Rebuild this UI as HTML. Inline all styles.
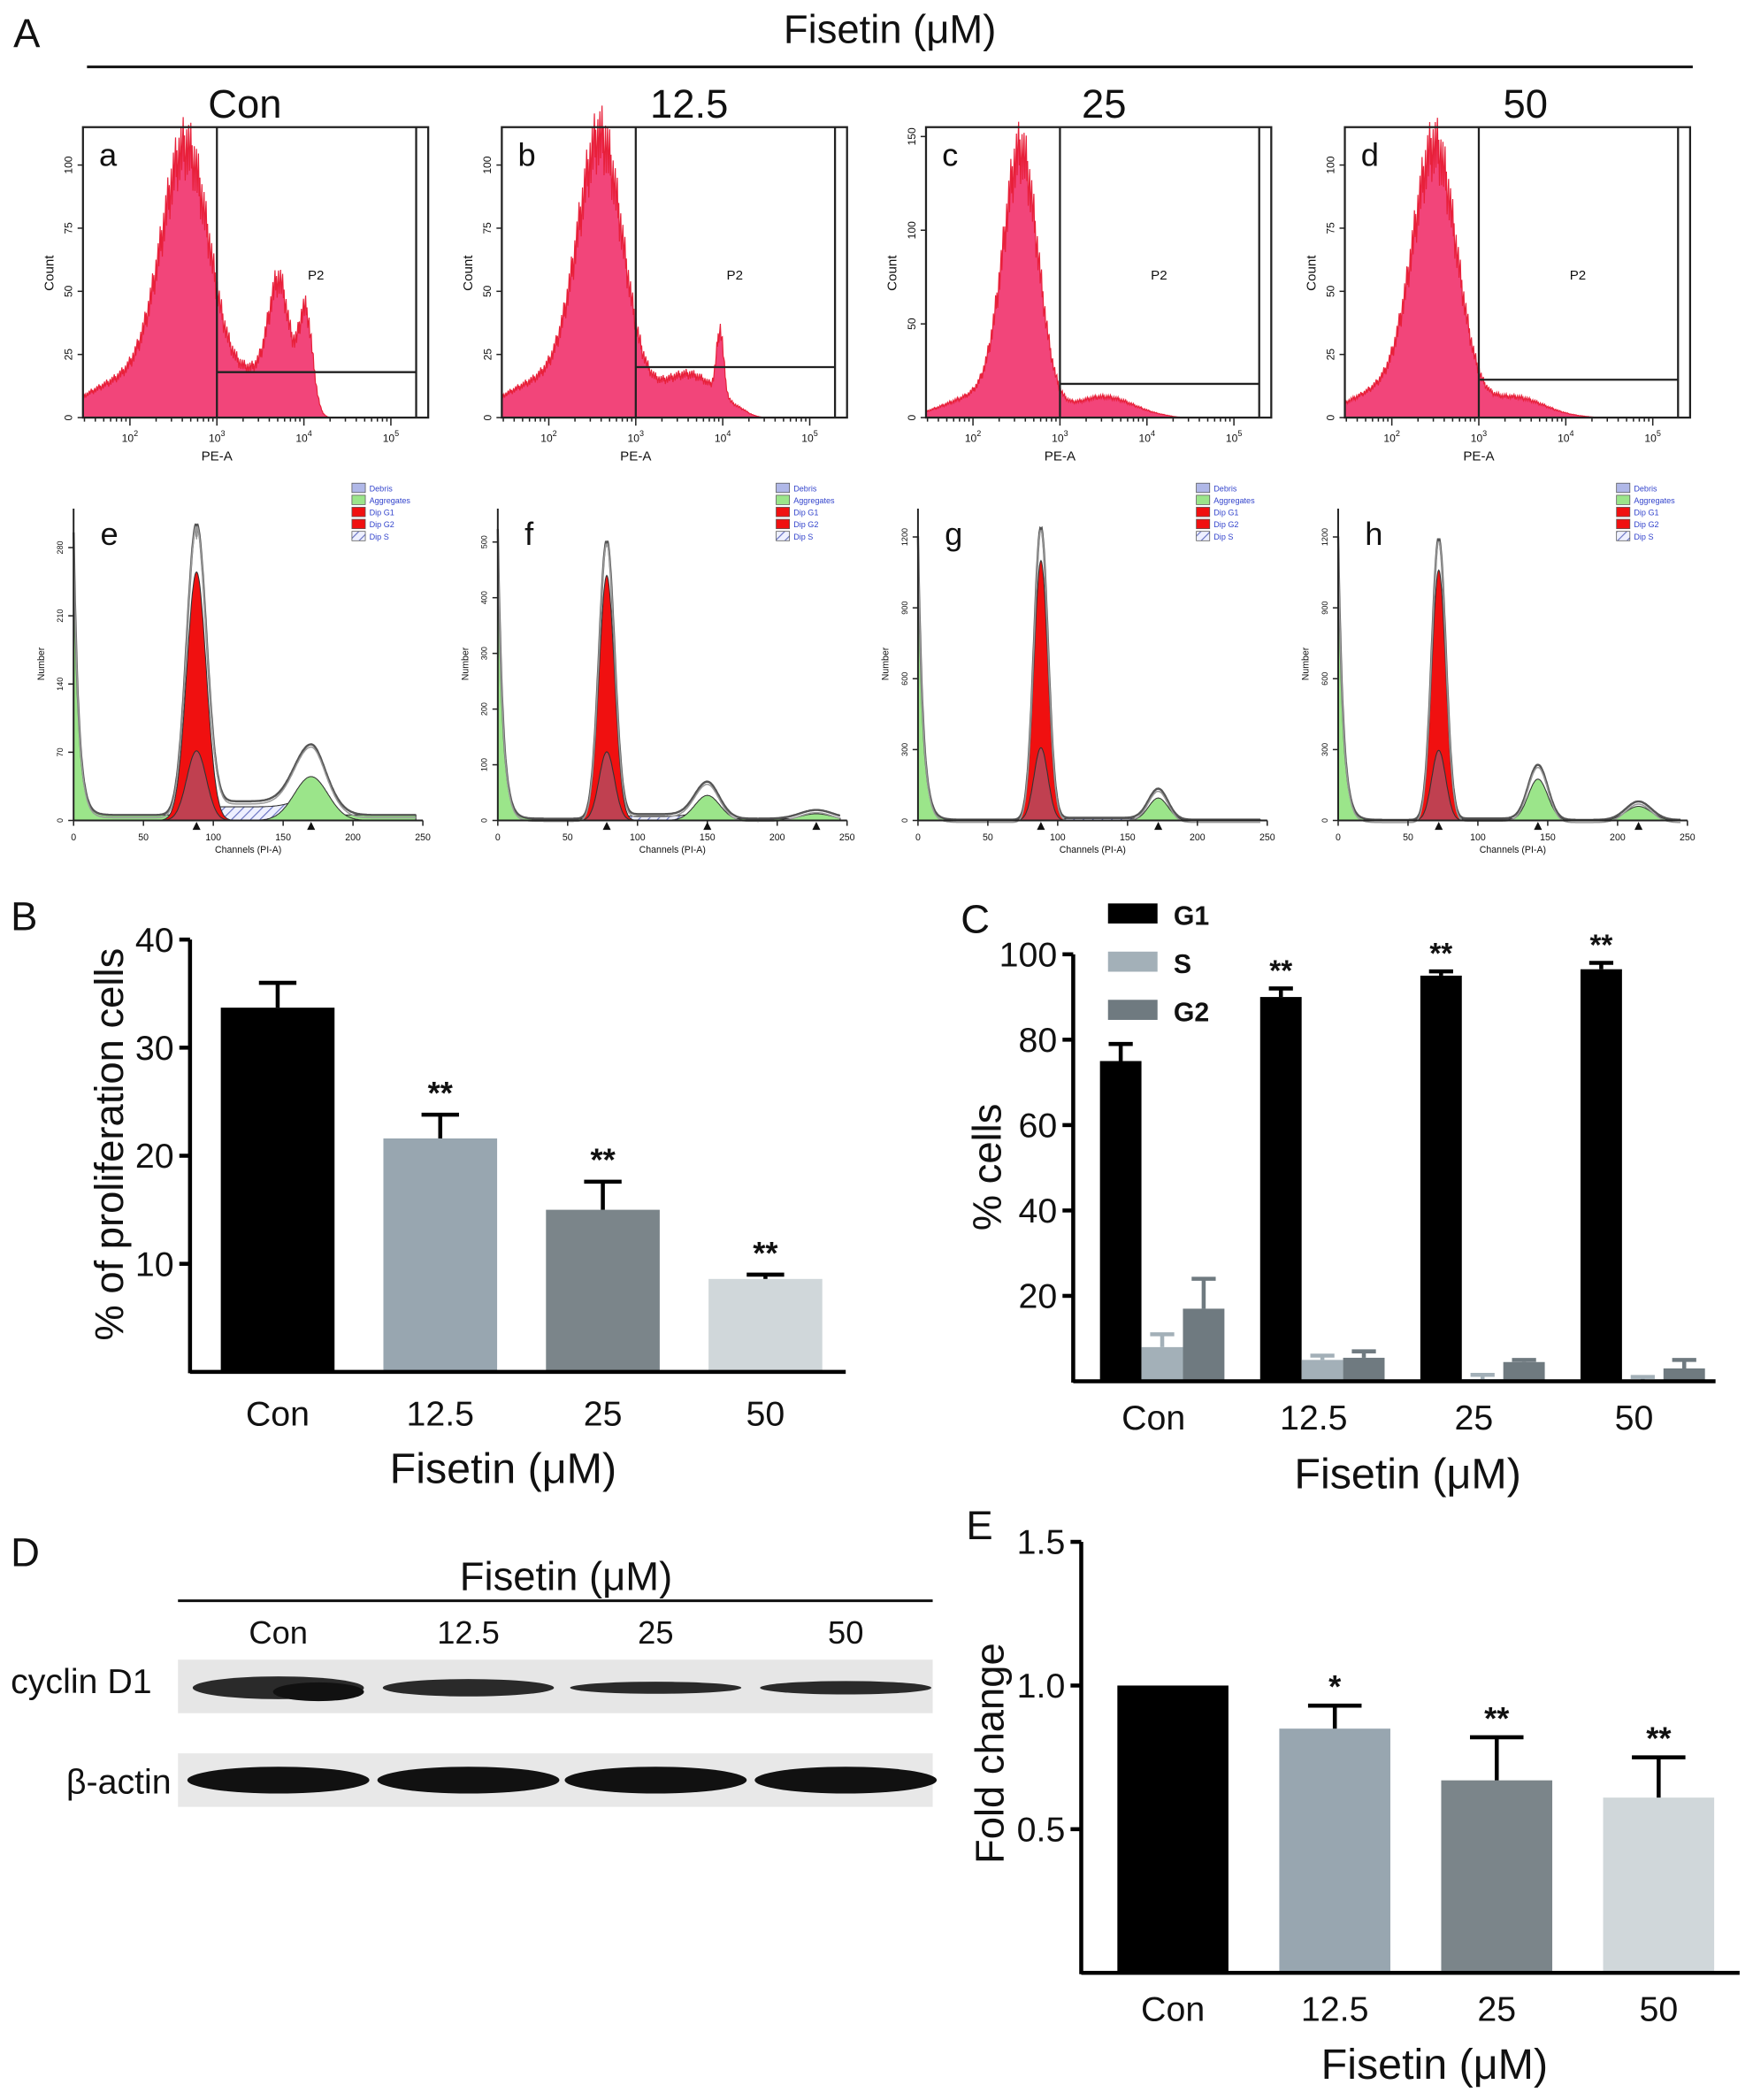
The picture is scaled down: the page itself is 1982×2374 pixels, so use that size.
<!DOCTYPE html>
<html><head><meta charset="utf-8"><style>
html,body{margin:0;padding:0;background:#fff}
svg{display:block}
text{font-family:"Liberation Sans",sans-serif}
</style></head><body>
<svg id="fig" width="1982" height="2374" viewBox="0 0 1310 1569" preserveAspectRatio="none" xmlns="http://www.w3.org/2000/svg">
<defs>
<pattern id="hatch" width="5" height="5" patternUnits="userSpaceOnUse" patternTransform="rotate(45)">
<rect width="5" height="5" fill="#eef0ff"/><line x1="0" y1="0" x2="0" y2="5" stroke="#6670c0" stroke-width="1.5"/></pattern>
</defs>
<g id="root"></g>
</svg>
<script>
// ---------- data ----------
const flowLabels = ['a','b','c','d'];
const doseLabels = ['Con','12.5','25','50'];
const flowPeaksA = [[2.65,0.28,100],[2.0,0.5,15],[3.72,0.12,45],[4.02,0.08,40],[3.45,0.25,16]];
const flowPeaksB = [[2.6,0.26,103],[2.0,0.5,15],[3.6,0.35,17],[3.97,0.04,25]];
const flowPeaksC = [[2.55,0.2,135],[2.1,0.4,12],[3.5,0.35,11]];
const flowPeaksD = [[2.5,0.25,100],[2.0,0.45,12],[3.4,0.35,8]];
const flowYMax = [115,115,155,115];
const flowYTicks = [[0,25,50,75,100],[0,25,50,75,100],[0,50,100,150],[0,25,50,75,100]];
const flowHLine = [18,20,18,15];

const ccLabels = ['e','f','g','h'];
const ccYTicks = [[0,70,140,210,280],[0,100,200,300,400,500],[0,300,600,900,1200],[0,300,600,900,1200]];
const ccYMax = [320,560,1320,1320];
// [G1 mean, G1 sd, G1 height, G2 mean, G2 sd, G2 height, G2b mean, G2b height, S level, debris height]
const ccParams = [
 [88,7,255,170,12,45,0,0,14,290],
 [78,5.5,440,150,9,45,228,12,8,520],
 [88,5,1100,172,7,95,0,0,8,1200],
 [72,5,1060,143,7,175,215,60,6,1200]
];

const propCats = ['Con','12.5','25','50'];
const propVals = [33.7,21.6,15.0,8.6];
const propErr = [2.3,2.2,2.6,0.4];
const propSig = ['','**','**','**'];
const propTicks = [10,20,30,40];

const cycleCats = ['Con','12.5','25','50'];
const cycleG1 = [75,90,95,96.5];
const cycleG1Err = [4,2,1,1.5];
const cycleS = [8,5,0.5,0.3];
const cycleSErr = [3,1,1,0.7];
const cycleG2 = [17,5.5,4.5,3];
const cycleG2Err = [7,1.5,0.5,2];
const cycleSig = ['','**','**','**'];
const cycleTicks = [20,40,60,80,100];

const foldCats = ['Con','12.5','25','50'];
const foldVals = [1.0,0.85,0.67,0.61];
const foldErr = [0,0.08,0.15,0.14];
const foldSig = ['','*','**','**'];
const foldTicks = [0.5,1.0,1.5];

// ---------- helpers ----------
const NS='http://www.w3.org/2000/svg';
const root=document.getElementById('root');
function el(tag,attrs,parent,txt){const e=document.createElementNS(NS,tag);for(const k in attrs)e.setAttribute(k,attrs[k]);if(txt!==undefined)e.textContent=txt;(parent||root).appendChild(e);return e;}
function txt(x,y,s,size,extra,parent){const a=Object.assign({x:x,y:y,'font-size':size,fill:'#111'},extra||{});return el('text',a,parent,s);}
function gauss(x,m,s){return Math.exp(-0.5*((x-m)/s)*((x-m)/s));}

// ---------- Panel A titles ----------
let t=txt(10,35,'A',30);
t=txt(665,32,'Fisetin (μM)',30,{'text-anchor':'middle'});
el('line',{x1:65,y1:50,x2:1265,y2:50,stroke:'#111','stroke-width':2});
const colCenters=[183,515,825,1140];

// ---------- flow histograms ----------
const flowX0=[62,375,692,1005];
const flowPeaks=[flowPeaksA,flowPeaksB,flowPeaksC,flowPeaksD];
for(let p=0;p<4;p++){
  const g=el('g',{});
  
  
  const x0=flowX0[p],top=95,bot=312,w=258;
  const lx=v=>x0+(v-1.46)*65;
  const ly=c=>bot-c/flowYMax[p]*(bot-top);
  const c=txt(colCenters[p],88,doseLabels[p],30,{'text-anchor':'middle'},g);
  
  let pts=[[lx(1.46),bot]];
  for(let v=1.46;v<=4.5;v+=0.008){
    let s=0;for(const k of flowPeaks[p])s+=k[2]*gauss(v,k[0],k[1]);
    const i=Math.round(v*125);s*=1+0.12*(((i*37)%11)-5)/5;
    if(v>4.25)s*=Math.max(0,1-(v-4.25)*4);
    pts.push([lx(v),ly(Math.max(0,s))]);
  }
  pts.push([lx(4.5),bot]);
  el('polygon',{points:pts.map(q=>q[0].toFixed(1)+','+q[1].toFixed(1)).join(' '),fill:'#f2457a',stroke:'#e8203a','stroke-width':0.8},g);
  el('rect',{x:x0,y:top,width:w,height:bot-top,fill:'none',stroke:'#222','stroke-width':1.5},g);
  const gx=lx(3);
  el('line',{x1:gx,y1:top,x2:gx,y2:bot,stroke:'#222','stroke-width':1.5},g);
  el('line',{x1:x0+249,y1:top,x2:x0+249,y2:bot,stroke:'#222','stroke-width':1.5},g);
  el('line',{x1:gx,y1:ly(flowHLine[p]),x2:x0+249,y2:ly(flowHLine[p]),stroke:'#222','stroke-width':1.5},g);
  txt(x0+168,209,'P2',10,{},g);
  txt(x0+12,124,flowLabels[p],24,{},g);
  for(const tk of flowYTicks[p]){const y=ly(tk);el('line',{x1:x0-4,y1:y,x2:x0,y2:y,stroke:'#222'},g);
    txt(x0-8,y,String(tk),8,{transform:'rotate(-90 '+(x0-8)+' '+y+')','text-anchor':'middle'},g);}
  txt(x0-22,204,'Count',10,{transform:'rotate(-90 '+(x0-22)+' 204)','text-anchor':'middle'},g);
  for(let d=2;d<=5;d++){const x=lx(d);el('line',{x1:x,y1:bot,x2:x,y2:bot+6,stroke:'#222'},g);
    const tt=txt(x,330,'10',8,{'text-anchor':'middle'},g);
    el('tspan',{dy:-4,'font-size':6},tt,String(d));
    for(let m=2;m<10;m++){const xm=lx(d-1+Math.log10(m));if(xm>x0)el('line',{x1:xm,y1:bot,x2:xm,y2:bot+3,stroke:'#222'},g);}
  }
  txt(gx,344,'PE-A',10,{'text-anchor':'middle'},g);
}

// ---------- cell cycle histograms ----------
const ccX0=[55,372,686,1000];
for(let p=0;p<4;p++){
  const g=el('g',{});
  
  
  const x0=ccX0[p],top=380,bot=613,w=261;
  const cx=c=>x0+c/250*w;
  const cy=v=>bot-v/ccYMax[p]*(bot-top);
  const [m1,s1,h1,m2,s2,h2,m3,h3,sl,dh]=ccParams[p];
  const comp={deb:[],g1:[],g1b:[],g2:[],s:[],env:[]};
  for(let c=0;c<=245;c+=0.5){
    const deb=dh*Math.exp(-c/3.5)+sl*0.4;
    const G1=h1*gauss(c,m1,s1);
    const G2=h2*gauss(c,m2,s2)+h3*gauss(c,m3,s2*1.3);
    const S=(c>m1&&c<m2)?sl:sl*gauss(c,c<m1?m1:m2,s1);
    comp.deb.push([cx(c),cy(deb)]);comp.g1.push([cx(c),cy(G1)]);
    comp.g1b.push([cx(c),cy(G1*0.28)]);comp.g2.push([cx(c),cy(G2)]);
    comp.s.push([cx(c),cy(S+G2*0.2)]);
    comp.env.push([cx(c),cy(deb+G1*1.12+G2*1.3+S)]);
  }
  const poly=(arr,fill,stroke)=>el('polygon',{points:[[arr[0][0],bot]].concat(arr,[[arr[arr.length-1][0],bot]]).map(q=>q[0].toFixed(1)+','+q[1].toFixed(1)).join(' '),fill:fill,stroke:stroke||'#333','stroke-width':0.7},g);
  poly(comp.deb,'#9be58a');poly(comp.s,'url(#hatch)');poly(comp.g2,'#9be58a');
  poly(comp.g1,'#f01010');poly(comp.g1b,'#c04050');
  el('polyline',{points:comp.env.map(q=>q[0].toFixed(1)+','+q[1].toFixed(1)).join(' '),fill:'none',stroke:'#555','stroke-width':1.6},g);
  el('polyline',{points:comp.env.map(q=>q[0].toFixed(1)+','+(q[1]+2).toFixed(1)).join(' '),fill:'none',stroke:'#999','stroke-width':1},g);
  el('line',{x1:x0,y1:top,x2:x0,y2:bot,stroke:'#222','stroke-width':1.3},g);
  el('line',{x1:x0,y1:bot,x2:x0+w,y2:bot,stroke:'#222','stroke-width':1.3},g);
  for(const tk of ccYTicks[p]){const y=cy(tk);el('line',{x1:x0-4,y1:y,x2:x0,y2:y,stroke:'#222'},g);
    txt(x0-8,y,String(tk),6,{transform:'rotate(-90 '+(x0-8)+' '+y+')','text-anchor':'middle'},g);}
  txt(x0-22,496,'Number',7,{transform:'rotate(-90 '+(x0-22)+' 496)','text-anchor':'middle'},g);
  for(let c=0;c<=250;c+=50){el('line',{x1:cx(c),y1:bot,x2:cx(c),y2:bot+4,stroke:'#222'},g);txt(cx(c),628,String(c),7,{'text-anchor':'middle'},g);}
  txt(cx(125),637,'Channels (PI-A)',7,{'text-anchor':'middle'},g);
  for(const m of [m1,m2,m3]) if(m) el('polygon',{points:`${cx(m)-3},${bot+7} ${cx(m)+3},${bot+7} ${cx(m)},${bot+1}`,fill:'#111'},g);
  txt(x0+20,407,ccLabels[p],24,{},g);
  const lg=[['#b0b8e8','Debris'],['#9be58a','Aggregates'],['#f01010','Dip G1'],['#f01010','Dip G2'],['url(#hatch)','Dip S']];
  lg.forEach((L,i)=>{el('rect',{x:x0+208,y:361+i*9,width:10,height:7,fill:L[0],stroke:'#555','stroke-width':0.5},g);txt(x0+221,367+i*9,L[1],6,{fill:'#3344cc'},g);});
}

function axisPanel(cfg){
  const g=el('g',{});
  
  
  return g;
}

// ---------- Panel B ----------
(function(){
  const g=axisPanel({name:'proliferation-bar-chart'});
  const L=142,B=1025,T=702,R=632,vmax=40;
  const y=v=>B-v/vmax*(B-T);
  const colors=['#000','#98a6b0','#7b858a','#d0d7da'];
  const x0=165,step=121.5,bw=85;
  let t=txt(8,695,'B',30,{},g);
  propCats.forEach((c,i)=>{
    const bx=x0+i*step;
    const r=el('rect',{x:bx,y:y(propVals[i]),width:bw,height:B-y(propVals[i]),fill:colors[i]},g);
    
    const cx=bx+bw/2,ye=y(propVals[i]+propErr[i]);
    el('line',{x1:cx,y1:y(propVals[i]),x2:cx,y2:ye,stroke:'#000','stroke-width':3},g);
    el('line',{x1:cx-14,y1:ye,x2:cx+14,y2:ye,stroke:'#000','stroke-width':3},g);
    if(propSig[i])txt(cx,ye-8,propSig[i],24,{'text-anchor':'middle','font-weight':'bold'},g);
    txt(cx,1065,c,26,{'text-anchor':'middle'},g);
  });
  el('line',{x1:L,y1:T,x2:L,y2:B+1,stroke:'#000','stroke-width':3},g);
  el('line',{x1:L,y1:B,x2:R,y2:B,stroke:'#000','stroke-width':3},g);
  propTicks.forEach(v=>{el('line',{x1:L-8,y1:y(v),x2:L,y2:y(v),stroke:'#000','stroke-width':3},g);txt(L-12,y(v)+9,String(v),26,{'text-anchor':'end'},g);});
  txt(92,855,'% of proliferation cells',30,{transform:'rotate(-90 92 855)','text-anchor':'middle'},g);
  txt(376,1108,'Fisetin (μM)',32,{'text-anchor':'middle'},g);
})();

// ---------- Panel C ----------
(function(){
  const g=axisPanel({name:'cell-cycle-bar-chart'});
  const L=802,B=1032,T=713,R=1282,vmax=100;
  const y=v=>B-v/vmax*(B-T);
  let t=txt(718,697,'C',30,{},g);
  const series=[[cycleG1,cycleG1Err,'#000'],[cycleS,cycleSErr,'#a3b0b8'],[cycleG2,cycleG2Err,'#6f7a80']];
  const x0=822,step=119.7,bw=31;
  cycleCats.forEach((c,i)=>{
    series.forEach((s,j)=>{
      const bx=x0+i*step+j*bw;
      const r=el('rect',{x:bx,y:y(s[0][i]),width:bw,height:B-y(s[0][i]),fill:s[2]},g);
      
      const cx=bx+bw/2,ye=y(s[0][i]+s[1][i]);
      el('line',{x1:cx,y1:y(s[0][i]),x2:cx,y2:ye,stroke:s[2],'stroke-width':3},g);
      el('line',{x1:cx-9,y1:ye,x2:cx+9,y2:ye,stroke:s[2],'stroke-width':3},g);
      if(j===0&&cycleSig[i])txt(cx,ye-6,cycleSig[i],22,{'text-anchor':'middle','font-weight':'bold'},g);
    });
    txt(x0+i*step+40,1068,c,26,{'text-anchor':'middle'},g);
  });
  el('line',{x1:L,y1:T,x2:L,y2:B+1,stroke:'#000','stroke-width':3},g);
  el('line',{x1:L,y1:B,x2:R,y2:B,stroke:'#000','stroke-width':3},g);
  cycleTicks.forEach(v=>{el('line',{x1:L-8,y1:y(v),x2:L,y2:y(v),stroke:'#000','stroke-width':3},g);txt(L-12,y(v)+9,String(v),26,{'text-anchor':'end'},g);});
  txt(748,872,'% cells',30,{transform:'rotate(-90 748 872)','text-anchor':'middle'},g);
  txt(1052,1112,'Fisetin (μM)',32,{'text-anchor':'middle'},g);
  const lg=[['G1','#000'],['S','#a3b0b8'],['G2','#6f7a80']];
  lg.forEach((L2,i)=>{const r=el('rect',{x:828,y:675+i*36,width:37,height:15,fill:L2[1]},g);
    
    txt(877,691+i*36,L2[0],20,{'font-weight':'bold'},g);});
})();

// ---------- Panel D (western blot) ----------
(function(){
  const g=axisPanel({name:'western-blot'});
  let t=txt(8,1170,'D',30,{},g);
  txt(423,1188,'Fisetin (μM)',30,{'text-anchor':'middle'},g);
  el('line',{x1:133,y1:1196,x2:697,y2:1196,stroke:'#111','stroke-width':2},g);
  const lx=[208,350,490,632];
  doseLabels.forEach((d,i)=>txt(lx[i],1228,d,24,{'text-anchor':'middle'},g));
  el('rect',{x:133,y:1240,width:564,height:40,fill:'#e6e6e6'},g);
  el('rect',{x:133,y:1310,width:564,height:40,fill:'#e8e8e8'},g);
  const cycH=[15,11,7,8];
  lx.forEach((x,i)=>{
    el('ellipse',{cx:x,cy:1261,rx:64,ry:cycH[i]/2+1,fill:'#1a1a1a',opacity:0.92},g);
    el('ellipse',{cx:x,cy:1330,rx:68,ry:10,fill:'#111'},g);
  });
  el('ellipse',{cx:238,cy:1264,rx:34,ry:7,fill:'#111'},g);
  txt(8,1265,'cyclin D1',26,{},g);
  txt(128,1340,'β-actin',26,{'text-anchor':'end'},g);
})();

// ---------- Panel E ----------
(function(){
  const g=axisPanel({name:'fold-change-bar-chart'});
  const L=808,B=1474,T=1152,R=1300,vmax=1.5;
  const y=v=>B-v/vmax*(B-T);
  let t=txt(722,1150,'E',30,{},g);
  const colors=['#000','#98a6b0','#7b858a','#d0d7da'];
  const x0=835,step=121,bw=83;
  foldCats.forEach((c,i)=>{
    const bx=x0+i*step;
    const r=el('rect',{x:bx,y:y(foldVals[i]),width:bw,height:B-y(foldVals[i]),fill:colors[i]},g);
    
    const cx=bx+bw/2,ye=y(foldVals[i]+foldErr[i]);
    if(foldErr[i]>0){
      el('line',{x1:cx,y1:y(foldVals[i]),x2:cx,y2:ye,stroke:'#000','stroke-width':3},g);
      el('line',{x1:cx-20,y1:ye,x2:cx+20,y2:ye,stroke:'#000','stroke-width':3},g);}
    if(foldSig[i])txt(cx,ye-6,foldSig[i],24,{'text-anchor':'middle','font-weight':'bold'},g);
    txt(cx,1510,c,26,{'text-anchor':'middle'},g);
  });
  el('line',{x1:L,y1:T,x2:L,y2:B+1,stroke:'#000','stroke-width':3},g);
  el('line',{x1:L,y1:B,x2:R,y2:B,stroke:'#000','stroke-width':3},g);
  foldTicks.forEach(v=>{el('line',{x1:L-8,y1:y(v),x2:L,y2:y(v),stroke:'#000','stroke-width':3},g);txt(L-12,y(v)+9,v.toFixed(1),26,{'text-anchor':'end'},g);});
  txt(750,1310,'Fold change',30,{transform:'rotate(-90 750 1310)','text-anchor':'middle'},g);
  txt(1072,1553,'Fisetin (μM)',32,{'text-anchor':'middle'},g);
})();
</script>
</body></html>
